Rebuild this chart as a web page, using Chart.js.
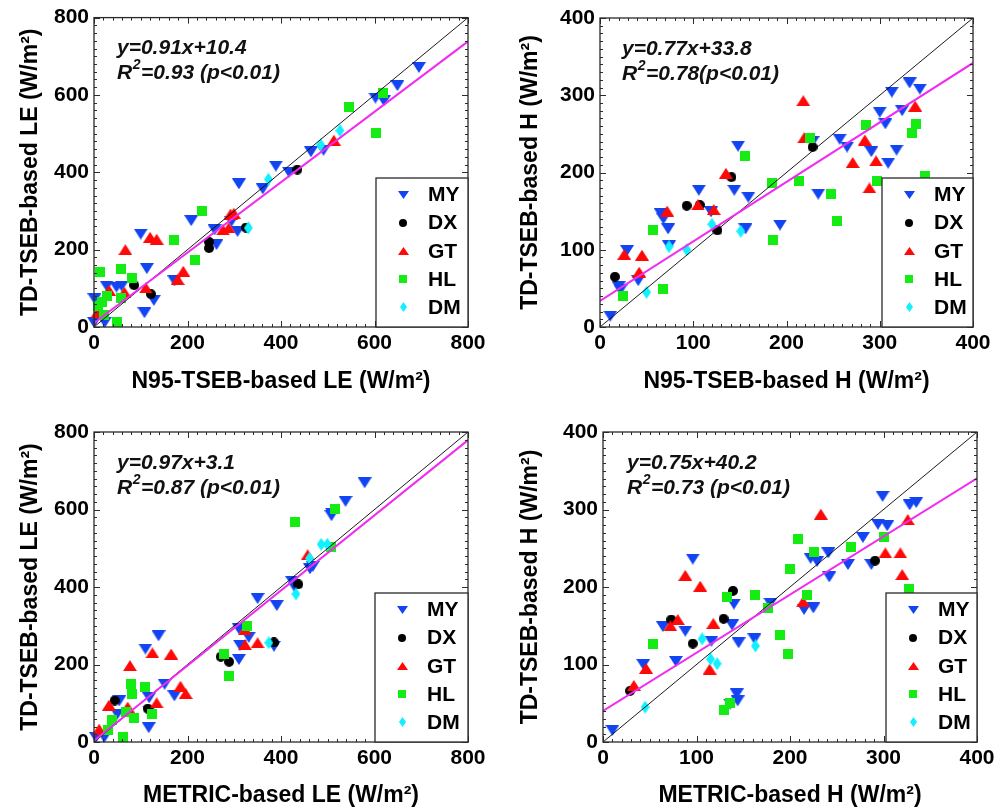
<!DOCTYPE html>
<html><head><meta charset="utf-8">
<script src="https://cdn.jsdelivr.net/npm/chart.js@4.4.0/dist/chart.umd.min.js"></script>
<style>
html,body{margin:0;padding:0;background:#fff;}
#wrap{position:relative;width:1006px;height:809px;overflow:hidden;background:#fff;}
canvas{position:absolute;}
</style></head><body><div id="wrap">
<canvas id="c1" width="503" height="404" style="left:0;top:0"></canvas>
<canvas id="c2" width="503" height="404" style="left:503px;top:0"></canvas>
<canvas id="c3" width="503" height="405" style="left:0;top:404px"></canvas>
<canvas id="c4" width="503" height="405" style="left:503px;top:404px"></canvas>
</div>
<script>
// ---------- data ----------
const sites = ['MY','DX','GT','HL','DM'];

// Panel 1: N95-TSEB LE vs TD-TSEB LE
const le_n95_MY = [[695,671],[649,624],[602,592],[620,585],[491,457],[464,453],[417,400],[389,416],[361,357],[310,370],[294,273],[307,247],[258,251],[262,213],[208,275],[100,240],[113,151],[172,119],[128,69],[108,37],[59,106],[48,103],[27,106],[1,73],[0,12],[23,12]];
const le_n95_DX = [[435,407],[325,257],[246,220],[246,204],[86,108],[122,85]];
const le_n95_GT = [[513,483],[299,294],[292,292],[276,251],[288,256],[179,123],[191,144],[120,232],[134,227],[67,200],[111,101],[65,90],[32,95],[7,37]];
const le_n95_HL = [[618,604],[546,568],[604,502],[230,300],[172,226],[215,172],[82,126],[58,151],[12,142],[28,80],[58,76],[17,64],[8,55],[22,31],[50,14]];
const le_n95_DM = [[526,508],[485,471],[373,382],[330,256]];

// Panel 2: N95-TSEB H vs TD-TSEB H
const h_n95_MY = [[11,14],[20,52],[22,48],[41,60],[29,99],[65,147],[68,140],[73,127],[74,105],[106,177],[119,149],[148,234],[144,177],[159,168],[156,127],[193,132],[234,172],[228,240],[257,243],[265,233],[300,278],[306,263],[291,227],[309,212],[318,229],[324,280],[313,304],[332,316],[343,308]];
const h_n95_DX = [[16,65],[93,157],[107,158],[126,125],[141,194],[228,233]];
const h_n95_GT = [[26,94],[45,93],[42,71],[72,150],[105,158],[122,152],[135,199],[218,293],[219,245],[271,213],[284,242],[296,215],[289,180],[338,286]];
const h_n95_HL = [[25,40],[68,49],[57,126],[155,221],[184,186],[186,112],[213,189],[225,245],[248,172],[254,137],[285,261],[297,189],[335,251],[339,263],[349,196]];
const h_n95_DM = [[50,45],[74,104],[93,100],[120,133],[151,124]];

// Panel 3: METRIC LE vs TD-TSEB LE
const le_met_MY = [[579,669],[538,621],[509,590],[508,584],[468,453],[462,447],[424,414],[429,400],[350,370],[391,352],[310,292],[312,250],[331,270],[310,213],[385,247],[138,274],[110,240],[151,149],[172,119],[118,114],[118,80],[117,37],[54,106],[50,72],[22,12],[4,12]];
const le_met_DX = [[437,407],[385,257],[271,220],[289,207],[44,107],[115,86]];
const le_met_GT = [[457,483],[323,290],[323,251],[350,256],[165,227],[125,230],[77,197],[185,144],[196,125],[134,101],[32,95],[72,90],[11,33]];
const le_met_HL = [[516,602],[430,568],[508,502],[328,300],[278,227],[289,170],[79,150],[82,125],[110,142],[85,63],[125,73],[39,56],[29,30],[61,14],[68,78]];
const le_met_DM = [[486,510],[499,510],[461,474],[432,382],[374,256]];

// Panel 4: METRIC H vs TD-TSEB H
const h_met_MY = [[10,15],[43,100],[64,149],[78,104],[88,143],[96,236],[116,130],[138,151],[140,178],[145,128],[136,49],[143,62],[144,53],[162,133],[179,179],[215,171],[225,173],[222,237],[229,233],[241,244],[242,213],[262,229],[278,264],[287,229],[294,281],[304,279],[299,317],[328,306],[335,309]];
const h_met_DX = [[29,66],[73,158],[96,127],[129,159],[139,195],[291,234]];
const h_met_GT = [[33,73],[46,95],[72,150],[80,158],[88,215],[104,201],[114,94],[118,153],[214,181],[233,294],[302,244],[318,244],[320,216],[326,287]];
const h_met_HL = [[54,127],[129,41],[136,50],[133,187],[163,190],[176,173],[189,138],[198,113],[200,223],[209,262],[218,190],[226,245],[265,252],[301,264],[327,197]];
const h_met_DM = [[45,45],[106,133],[115,107],[122,101],[163,124]];

// regression fits
const fitSlopes = [0.91, 0.77, 0.97, 0.75];
const fitIntercepts = [10.4, 33.8, 3.1, 40.2];
const eqLabels = ['y=0.91x+10.4','y=0.77x+33.8','y=0.97x+3.1','y=0.75x+40.2'];
const r2Values = ['=0.93 (p<0.01)','=0.78(p<0.01)','=0.87 (p<0.01)','=0.73 (p<0.01)'];
const xTitles = ['N95-TSEB-based LE (W/m\u00B2)','N95-TSEB-based H (W/m\u00B2)','METRIC-based LE (W/m\u00B2)','METRIC-based H (W/m\u00B2)'];
const yTitles = ['TD-TSEB-based LE (W/m\u00B2)','TD-TSEB-based H (W/m\u00B2)','TD-TSEB-based LE (W/m\u00B2)','TD-TSEB-based H (W/m\u00B2)'];
const axisMax = [800, 400, 800, 400];
const majorStep = [200, 100, 200, 100];
const minorStep = [20, 10, 20, 10];

// ---------- styling ----------
const FONT = '"Liberation Sans", Arial, Helvetica, sans-serif';
const siteColors = {MY:'#1244f2', DX:'#000000', GT:'#ff0808', HL:'#14ec14', DM:'#12f0ff'};
const siteShapes = {MY:'down', DX:'circle', GT:'up', HL:'square', DM:'diamond'};
const FIT_COLOR = '#f02cf0';
const FRAME = '#2a2a2a';

function marker(kind, color, big) {
  const c = document.createElement('canvas');
  const g = c.getContext('2d');
  let w, h;
  if (kind === 'down' || kind === 'up') { w = big ? 14 : 11; h = big ? 11 : 8; }
  else if (kind === 'circle') { w = h = big ? 10 : 8; }
  else if (kind === 'square') { w = h = big ? 10 : 8; }
  else { w = big ? 9 : 7; h = big ? 13 : 10; }
  c.width = w; c.height = h;
  g.fillStyle = color; g.beginPath();
  if (kind === 'down') { g.moveTo(0,0); g.lineTo(w,0); g.lineTo(w/2,h); }
  else if (kind === 'up') { g.moveTo(0,h); g.lineTo(w,h); g.lineTo(w/2,0); }
  else if (kind === 'circle') { g.arc(w/2,h/2,w/2,0,Math.PI*2); }
  else if (kind === 'square') { g.rect(0,0,w,h); }
  else { g.moveTo(w/2,0); g.lineTo(w,h/2); g.lineTo(w/2,h); g.lineTo(0,h/2); }
  g.closePath(); g.fill();
  return c;
}

function makePanel(idx, canvasId, series, layout) {
  const max = axisMax[idx], major = majorStep[idx], minor = minorStep[idx];
  const m = fitSlopes[idx], b = fitIntercepts[idx];
  const datasets = [];
  series.forEach((arr, i) => {
    const s = sites[i];
    datasets.push({
      type: 'scatter', label: s,
      data: arr.map(p => ({x: p[0], y: p[1]})),
      pointStyle: marker(siteShapes[s], siteColors[s], true),
      legendMarker: marker(siteShapes[s], siteColors[s], false),
      pointRadius: 6, pointHoverRadius: 6,
      clip: 12, order: 10 - i, isSite: true
    });
  });
  datasets.push({
    type: 'line', label: '1:1', data: [{x:0,y:0},{x:max,y:max}],
    borderColor: '#000', borderWidth: 0.9, pointRadius: 0, fill: false, clip: 0, order: 1
  });
  datasets.push({
    type: 'line', label: 'fit', data: [{x:0,y:b},{x:max,y:m*max+b}],
    borderColor: FIT_COLOR, borderWidth: 2, pointRadius: 0, fill: false, clip: 0, order: 0
  });

  const framePlugin = {
    id: 'frame' + idx,
    afterDatasetsDraw(chart) {
      const {ctx, chartArea: a} = chart;
      const xs = chart.scales.x, ys = chart.scales.y;
      ctx.save();
      ctx.strokeStyle = FRAME;
      ctx.lineWidth = 1;
      for (let v = 0; v <= max + 1e-6; v += minor) {
        const isMajor = Math.abs(v / major - Math.round(v / major)) < 1e-6;
        const len = isMajor ? 6 : 3;
        const px = Math.round(xs.getPixelForValue(v)) + 0.5;
        const py = Math.round(ys.getPixelForValue(v)) + 0.5;
        ctx.beginPath();
        ctx.moveTo(px, a.bottom); ctx.lineTo(px, a.bottom - len);
        ctx.moveTo(px, a.top); ctx.lineTo(px, a.top + len);
        ctx.moveTo(a.left, py); ctx.lineTo(a.left + len, py);
        ctx.moveTo(a.right, py); ctx.lineTo(a.right - len, py);
        ctx.stroke();
      }
      ctx.lineWidth = 1.3;
      ctx.strokeRect(a.left, a.top, a.right - a.left, a.bottom - a.top);
      ctx.restore();
    },
    afterDraw(chart) {
      const {ctx, chartArea: a} = chart;
      ctx.save();
      // annotation
      ctx.fillStyle = '#111';
      const annFont = 'italic bold 21px ' + FONT;
      ctx.font = annFont;
      ctx.textBaseline = 'middle'; ctx.textAlign = 'left';
      const ax = a.left + layout.annX;
      ctx.fillText(eqLabels[idx], ax, a.top + 31);
      ctx.fillText('R', ax, a.top + 56);
      const rw = ctx.measureText('R').width;
      ctx.font = 'italic bold 14px ' + FONT;
      ctx.fillText('2', ax + rw + 0.5, a.top + 48);
      const sw = ctx.measureText('2').width;
      ctx.font = annFont;
      ctx.fillText(r2Values[idx], ax + rw + sw + 1, a.top + 56);
      // legend
      const bw = layout.legW, bh = 149;
      const bx = a.right - bw, by = a.bottom - bh;
      ctx.fillStyle = '#fff';
      ctx.fillRect(bx, by, bw, bh);
      ctx.strokeStyle = FRAME; ctx.lineWidth = 1.3;
      ctx.strokeRect(bx, by, bw, bh);
      ctx.font = 'bold 21px ' + FONT;
      ctx.fillStyle = '#000';
      chart.data.datasets.filter(d => d.isSite).forEach((d, i) => {
        const cy = by + 16.5 + i * 28.2;
        const mk = d.legendMarker;
        ctx.drawImage(mk, Math.round(bx + 27 - mk.width / 2), Math.round(cy - mk.height / 2));
        ctx.fillText(d.label, bx + 52, cy + 1);
      });
      ctx.restore();
    }
  };

  const tickFont = {family: FONT, size: 21, weight: 'bold'};
  const titleFont = {family: FONT, size: 23, weight: 'bold'};
  return new Chart(document.getElementById(canvasId), {
    type: 'scatter',
    data: {datasets},
    options: {
      responsive: false, animation: false, devicePixelRatio: 1,
      events: [],
      layout: {padding: {left: 0, top: layout.top, right: layout.right, bottom: 0}},
      plugins: {legend: {display: false}, tooltip: {enabled: false}},
      scales: {
        x: {
          type: 'linear', min: 0, max: max,
          ticks: {stepSize: major, font: tickFont, color: '#000', padding: 4, maxRotation: 0, autoSkip: false},
          grid: {display: false, drawTicks: false}, border: {display: false},
          title: {display: true, text: xTitles[idx], font: titleFont, color: '#000', padding: {top: 0, bottom: layout.xTitlePad}},
          afterFit: s => { s.height = layout.xH; }
        },
        y: {
          type: 'linear', min: 0, max: max,
          ticks: {stepSize: major, font: tickFont, color: '#000', padding: 5, autoSkip: false},
          grid: {display: false, drawTicks: false}, border: {display: false},
          title: {display: true, text: yTitles[idx], font: titleFont, color: '#000', padding: {top: layout.yTitlePad, bottom: 0}},
          afterFit: s => { s.width = layout.yW; }
        }
      }
    },
    plugins: [framePlugin]
  });
}

makePanel(0, 'c1', [le_n95_MY, le_n95_DX, le_n95_GT, le_n95_HL, le_n95_DM],
  {top: 17, right: 35, yW: 94, xH: 77, xTitlePad: 9, yTitlePad: 17, annX: 23, legW: 92});
makePanel(1, 'c2', [h_n95_MY, h_n95_DX, h_n95_GT, h_n95_HL, h_n95_DM],
  {top: 18, right: 33, yW: 97, xH: 77, xTitlePad: 9, yTitlePad: 14, annX: 22, legW: 91});
makePanel(2, 'c3', [le_met_MY, le_met_DX, le_met_GT, le_met_HL, le_met_DM],
  {top: 28, right: 35, yW: 94, xH: 67, xTitlePad: 0, yTitlePad: 17, annX: 23, legW: 93});
makePanel(3, 'c4', [h_met_MY, h_met_DX, h_met_GT, h_met_HL, h_met_DM],
  {top: 28, right: 29, yW: 100, xH: 67, xTitlePad: 0, yTitlePad: 14, annX: 24, legW: 91});
</script>
</body></html>
